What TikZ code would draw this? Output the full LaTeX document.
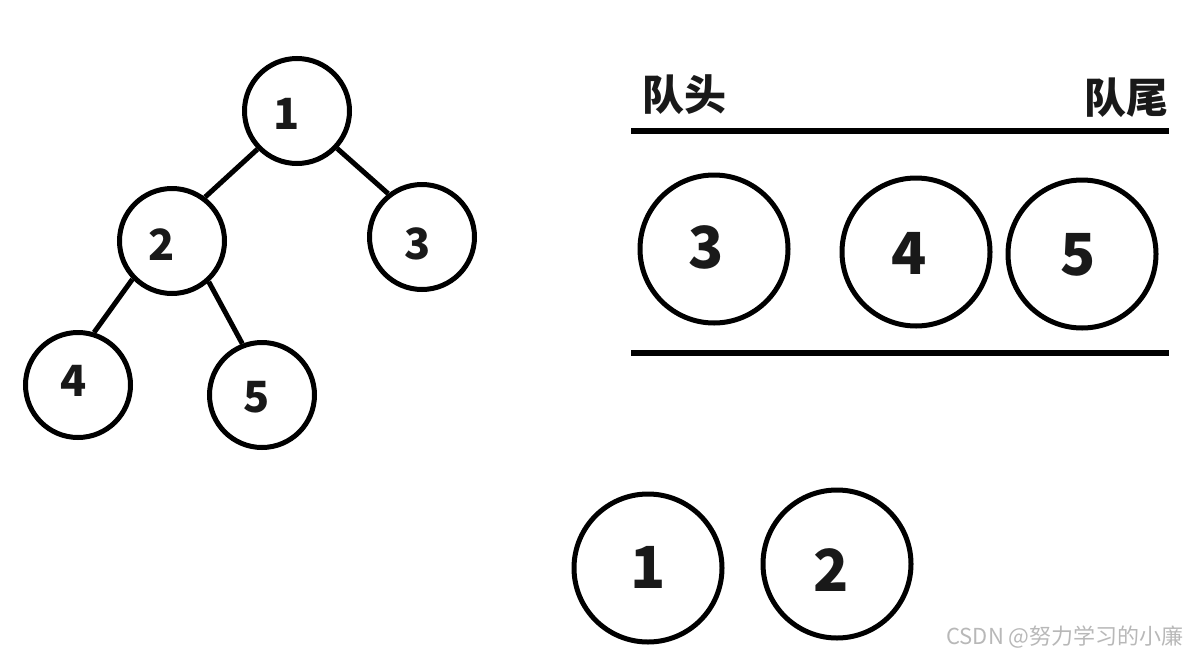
\documentclass[tikz,border=0pt]{standalone}
\usepackage{fontspec}
\newfontfamily\cjk{Noto Sans CJK SC}
\begin{document}
\begin{tikzpicture}[x=1pt,y=-1pt,
  treenode/.style={circle,draw=black,line width=5pt,minimum size=105pt,inner sep=0pt},
  qnode/.style={circle,draw=black,line width=5pt,minimum size=148pt,inner sep=0pt},
  tdig/.style={inner sep=0pt,font=\cjk\bfseries\fontsize{43}{43}\selectfont,text=black!90},
  qdig/.style={inner sep=0pt,font=\cjk\bfseries\fontsize{58}{58}\selectfont,text=black!90},
  edge/.style={line width=5pt,draw=black},
  bar/.style={line width=6pt,draw=black},
  lbl/.style={font=\cjk\bfseries\fontsize{42}{42}\selectfont,inner sep=0pt,text=black!90}]
\useasboundingbox (0,0) rectangle (1191,656);
% tree
\node[treenode] (t1) at (297,111) {};
\node[treenode] (t2) at (172,241) {};
\node[treenode] (t3) at (422,237) {};
\node[treenode] (t4) at (78,385) {};
\node[treenode] (t5) at (262,395) {};
\node[tdig] (d1) at (287,114) {1};
\node[tdig] (d2) at (162,245) {2};
\node[tdig] (d3) at (418,244) {3};
\node[tdig] (d4) at (74,381) {4};
\node[tdig] (d5) at (257,397) {5};
\draw[edge] (t1.224) -- (t2.53);
\draw[edge] (t1.317) -- (t3.128);
\draw[edge] (t2.224) -- (t4.73);
\draw[edge] (t2.312) -- (t5.111);
% queue
\coordinate (topL) at (631,131);
\coordinate (topR) at (1169,131);
\coordinate (botL) at (631,353);
\coordinate (botR) at (1169,353);
\draw[bar] (topL) -- (topR);
\draw[bar] (botL) -- (botR);
\node[lbl] (head) at (684,95) {队头};
\node[lbl] (tail) at (1126,98) {队尾};
\node[qnode] (q3) at (714,249) {};
\node[qnode] (q4) at (916,252) {};
\node[qnode] (q5) at (1082,254) {};
\node[qnode] (o1) at (648,568) {};
\node[qnode] (o2) at (837,564) {};
\node[qdig] (e3) at (706,247) {3};
\node[qdig] (e4) at (909,253) {4};
\node[qdig] (e5) at (1078,255) {5};
\node[qdig] (f1) at (648,567) {1};
\node[qdig] (f2) at (831,570) {2};
% watermark
\node[font=\cjk\fontsize{22}{22}\selectfont,text=black!28,inner sep=0pt] (wm) at (1065,637) {CSDN @努力学习的小廉};
\end{tikzpicture}
\end{document}
